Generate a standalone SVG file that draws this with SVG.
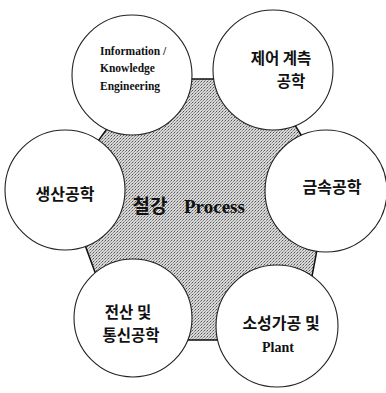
<svg xmlns="http://www.w3.org/2000/svg" width="386" height="393" viewBox="0 0 386 393">
<defs>
<pattern id="dots" width="3" height="3" patternUnits="userSpaceOnUse">
<rect width="3" height="3" fill="#d8d8d8"/>
<rect x="0" y="0" width="1" height="1" fill="#555"/>
<rect x="2" y="1" width="1" height="1" fill="#888"/>
<rect x="1" y="2" width="1" height="1" fill="#a0a0a0"/>
</pattern>
</defs>
<style>
.c{fill:#fff;stroke:#222;stroke-width:1.1}
.ko{font-family:"Noto Sans CJK KR",sans-serif;font-weight:700;fill:#111;text-anchor:middle}
.en{font-family:"Liberation Serif",serif;font-weight:700;fill:#111}
</style>
<g id="center">
<polygon points="143,79 266,79 330,181 300,340 120,340 64,188" fill="url(#dots)" stroke="#111" stroke-width="1.5"/>
</g>
<g id="connectors"></g>
<g id="n-info">
<circle class="c" cx="132" cy="75" r="60"/>
<text class="en" font-size="11.5" x="100" y="55">Information /</text>
<text class="en" font-size="11.5" x="100" y="72">Knowledge</text>
<text class="en" font-size="11.5" x="100" y="90">Engineering</text>
</g>
<g id="n-control">
<circle class="c" cx="273" cy="70" r="60"/>
<text class="ko" font-size="15.5" x="281" y="64">제어 계측</text>
<text class="ko" font-size="15.5" x="291" y="87">공학</text>
</g>
<g id="n-metal">
<circle class="c" cx="326" cy="191" r="61"/>
<text class="ko" font-size="16" x="332" y="193">금속공학</text>
</g>
<g id="n-prod">
<circle class="c" cx="65" cy="190" r="60"/>
<text class="ko" font-size="16" x="65" y="200">생산공학</text>
</g>
<g id="n-comp">
<circle class="c" cx="133" cy="318" r="59"/>
<text class="ko" font-size="15.5" x="128" y="318">전산 및</text>
<text class="ko" font-size="15.5" x="131" y="341">통신공학</text>
</g>
<g id="n-plastic">
<circle class="c" cx="277" cy="326" r="61"/>
<text class="ko" font-size="16" x="281" y="329">소성가공 및</text>
<text class="en" font-size="14" x="278" y="352" text-anchor="middle">Plant</text>
</g>
<g id="label">
<text class="ko" font-size="19" x="150" y="213">철강</text>
<text class="en" font-size="19" x="184" y="213">Process</text>
</g>
</svg>
